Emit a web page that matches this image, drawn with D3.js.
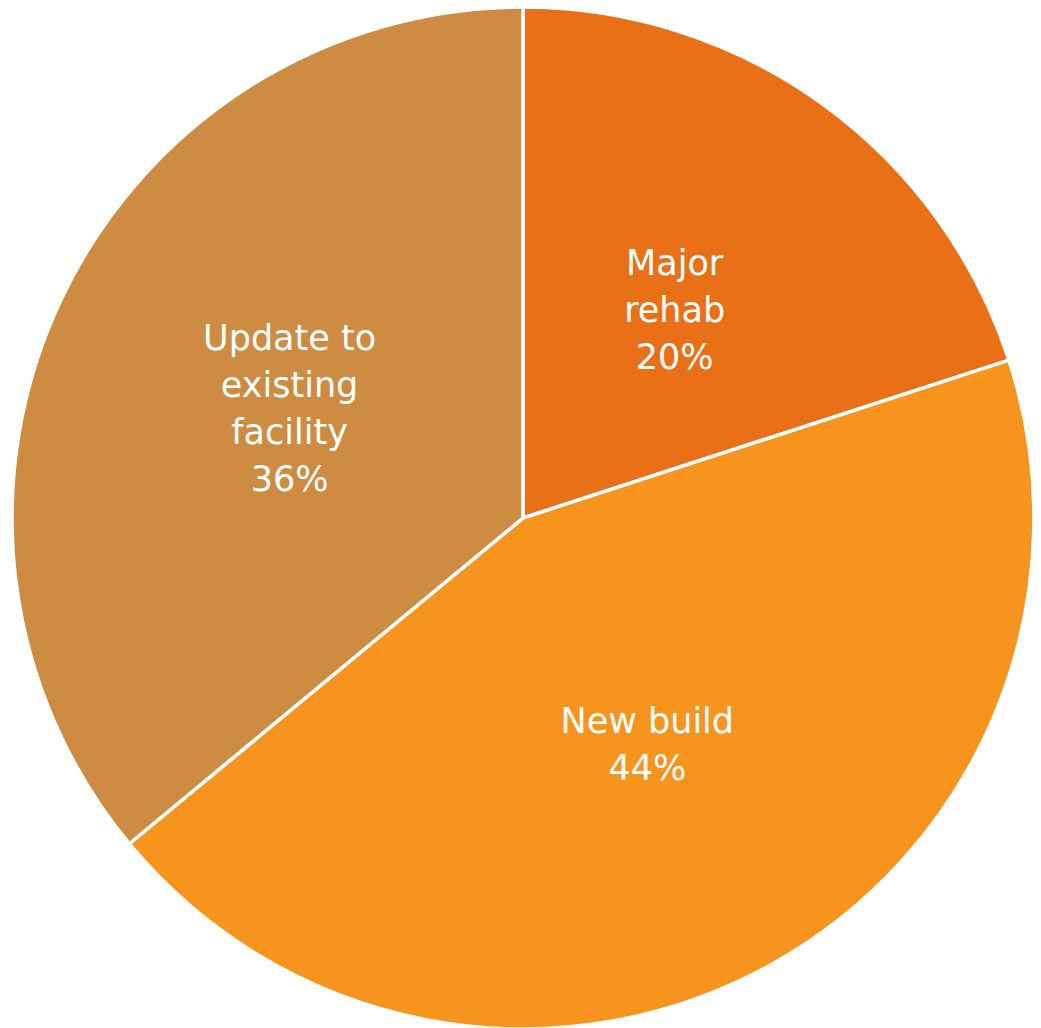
<!DOCTYPE html>
<html>
<head>
<meta charset="utf-8">
<script src="https://cdn.jsdelivr.net/npm/d3@7"></script>
<style>
  html, body { margin: 0; padding: 0; background: #ffffff; }
  svg { display: block; }
</style>
</head>
<body>
<svg id="chart" width="1041" height="1028"></svg>
<script>
// Share of projects by type of work
const categories = ["Major rehab", "New build", "Update to existing facility"];
const values = [20, 44, 36];
const labelLines = [["Major", "rehab"], ["New build"], ["Update to", "existing", "facility"]];
const colors = ["#EA7017", "#F7941E", "#CD8C41"];

const width = 1041, height = 1028;
const cx = 523, cy = 518, radius = 511;

const svg = d3.select("#chart");
const g = svg.append("g").attr("transform", `translate(${cx},${cy})`);

const data = categories.map((c, i) => ({ name: c, value: values[i], lines: labelLines[i], color: colors[i] }));

const pie = d3.pie().value(d => d.value).sort(null);
const arc = d3.arc().innerRadius(0).outerRadius(radius);
const labelArc = d3.arc().innerRadius(258).outerRadius(258);

const arcs = pie(data);

g.selectAll("path.slice")
  .data(arcs)
  .join("path")
  .attr("class", "slice")
  .attr("d", arc)
  .attr("fill", d => d.data.color)
  .attr("stroke", "#ffffff")
  .attr("stroke-width", 3.5)
  .attr("stroke-linejoin", "miter");

const lineH = 47, capH = 25;
g.selectAll("text.label")
  .data(arcs)
  .join("text")
  .attr("class", "label")
  .attr("text-anchor", "middle")
  .attr("fill", "#ffffff")
  .style("font-family", "'DejaVu Sans', sans-serif")
  .style("font-size", "35px")
  .each(function (d) {
    const [x, y] = labelArc.centroid(d);
    const lines = d.data.lines.concat([d.data.value + "%"]);
    const n = lines.length;
    const firstBase = y - ((n - 1) * lineH + capH) / 2 + capH;
    d3.select(this).selectAll("tspan")
      .data(lines)
      .join("tspan")
      .attr("x", x)
      .attr("y", (t, i) => firstBase + i * lineH)
      .text(t => t);
  });
</script>
</body>
</html>
